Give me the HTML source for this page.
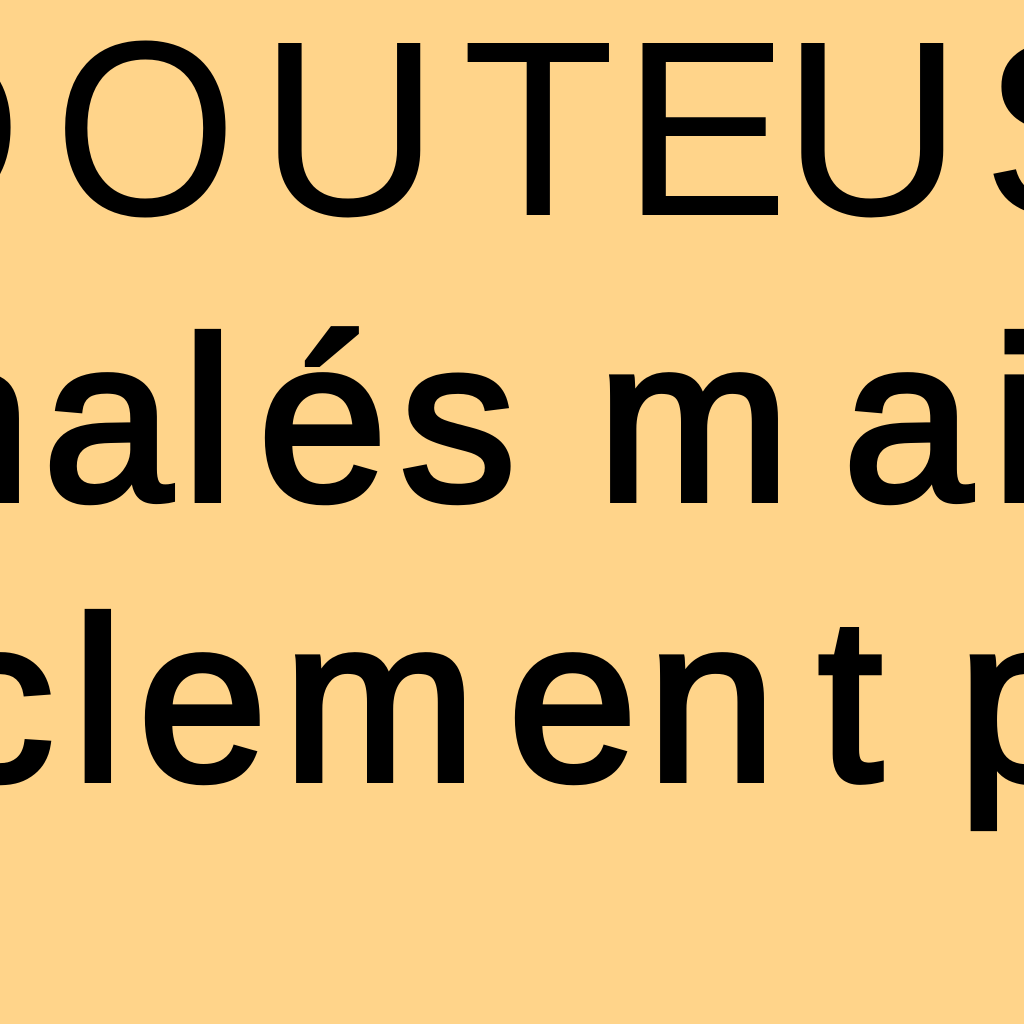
<!DOCTYPE html>
<html><head><meta charset="utf-8"><style>
html,body{margin:0;padding:0;background:#FFD48A;width:1024px;height:1024px;overflow:hidden}
svg{display:block}
text{font-family:"Liberation Sans",sans-serif;font-size:250px;fill:#000}
.b{font-size:232px;stroke:#000;stroke-width:6px}
</style></head><body>
<svg width="1024" height="1024" viewBox="0 0 1024 1024">
<rect width="1024" height="1024" fill="#FFD48A"/>
<text x="-158" y="215">D</text>
<text x="54" y="215" transform="translate(54 0) scale(0.94 1) translate(-54 0)">O</text>
<text x="259" y="215">U</text>
<text x="462" y="215">T</text>
<text x="622" y="215">E</text>
<text x="782" y="215">U</text>
<text x="982" y="215">S</text>

<text class="b" x="-98" y="500">n</text>
<text class="b" x="43" y="500">a</text>
<text class="b" x="182" y="500">l</text>
<text class="b" x="258" y="500">é</text>
<text class="b" x="400" y="500">s</text>
<text class="b" x="597" y="500">m</text>
<text class="b" x="843" y="500">a</text>
<text class="b" x="992" y="500">i</text>

<text class="b" x="-62" y="780">c</text>
<text class="b" x="72" y="780">l</text>
<text class="b" x="138" y="780">e</text>
<text class="b" x="283" y="780">m</text>
<text class="b" x="508" y="780">e</text>
<text class="b" x="647" y="780">n</text>
<text class="b" x="818" y="780">t</text>
<text class="b" x="958" y="780">p</text>
</svg>
</body></html>
